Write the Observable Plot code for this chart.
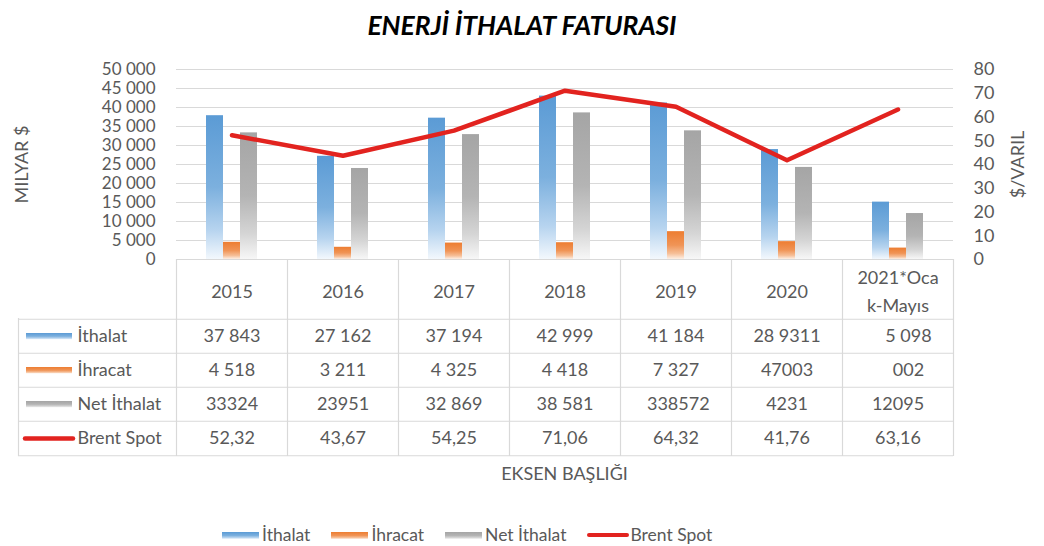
<!DOCTYPE html>
<html><head><meta charset="utf-8">
<script src="https://cdn.jsdelivr.net/npm/d3@7"></script>
<script src="https://cdn.jsdelivr.net/npm/@observablehq/plot@0.6"></script>
<style>
html,body{margin:0;padding:0;background:#fff;}
#root{position:relative;width:1044px;height:546px;overflow:hidden;font-family:Lato,sans-serif;color:#595959;}
#root svg{position:absolute;left:0;}
.title{position:absolute;left:0;width:1044px;top:8px;text-align:center;font-size:26.5px;font-weight:bold;font-style:italic;color:#000;line-height:34px;}
.xtitle{position:absolute;left:176px;width:777px;top:461px;text-align:center;font-size:18px;line-height:24px;}
.legend{position:absolute;left:222px;top:523px;display:flex;align-items:center;font-size:17.5px;line-height:24px;}
.legend .item{display:flex;align-items:center;margin-right:21px;}
.legend .sw{width:37px;height:7px;margin-right:3px;}
.legend .ln{width:42px;height:4px;border-radius:2px;margin-right:1px;}
</style></head><body><div id="root"></div>
<script>
// ---- data ----
const categories = ["2015","2016","2017","2018","2019","2020","2021"];
const headerLabels = ["2015","2016","2017","2018","2019","2020","2021*Oca\nk-Mayıs"];
const seriesNames = ["İthalat","İhracat","Net İthalat","Brent Spot"];
const ithalat    = [37843, 27162, 37194, 42999, 41184, 28931, 15098];
const ihracat    = [4518, 3211, 4325, 4418, 7327, 4700, 3002];
const netIthalat = [33324, 23951, 32869, 38581, 33857, 24231, 12095];
const brent      = [52.32, 43.67, 54.25, 71.06, 64.32, 41.76, 63.16];
const ithalatLabels = ["37 843","27 162","37 194","42 999","41 184","28 9311","\u2007\u20075 098"];
const ihracatLabels = ["4 518","3 211","4 325","4 418","7 327","47003","\u2007\u2007002"];
const netLabels     = ["33324","23951","32 869","38 581","\u00a0338572","4231","12095"];
const brentLabels   = ["52,32","43,67","54,25","71,06","64,32","41,76","63,16"];
const leftTicks  = d3.range(0, 50001, 5000);
const rightTicks = d3.range(0, 81, 10);

// ---- styles ----
const colors = {blue:"#5b9bd5", orange:"#ed7d31", gray:"#a5a5a5", red:"#e2231f", grid:"#d9d9d9", text:"#595959"};
const grads = {
  gBlue:   [["0","#5b9bd5"],["0.5","#7cb0de"],["0.8","#b7d4ef"],["1","#f3f8fd"]],
  gOrange: [["0","#ed7d31"],["0.5","#f09456"],["0.8","#f6bf98"],["1","#fdf0e6"]],
  gGray:   [["0","#a5a5a5"],["0.5","#b4b4b4"],["0.8","#d5d5d5"],["1","#f7f7f7"]]
};
const root = document.getElementById("root");
// gradient defs
const NS = "http://www.w3.org/2000/svg";
const defsSvg = document.createElementNS(NS, "svg");
defsSvg.setAttribute("width", 0); defsSvg.setAttribute("height", 0);
defsSvg.style.position = "absolute";
const defs = document.createElementNS(NS, "defs");
for (const [id, stops] of Object.entries(grads)) {
  const g = document.createElementNS(NS, "linearGradient");
  g.setAttribute("id", id); g.setAttribute("x1", 0); g.setAttribute("y1", 0); g.setAttribute("x2", 0); g.setAttribute("y2", 1);
  for (const [o, c] of stops) { const s = document.createElementNS(NS, "stop"); s.setAttribute("offset", o); s.setAttribute("stop-color", c); g.appendChild(s); }
  defs.appendChild(g);
}
defsSvg.appendChild(defs); root.appendChild(defsSvg);

// title
const t = document.createElement("div"); t.className = "title"; t.textContent = "ENERJİ İTHALAT FATURASI"; root.appendChild(t);

// ---- chart ----
const factor = 50000 / 80;
const chartData = categories.map((c, i) => ({cat: c, ith: ithalat[i], ihr: ihracat[i], net: netIthalat[i], brent: brent[i] * factor, header: headerLabels[i]}));
const W = 1044, ML = 176, MR = 91;
const band = (W - ML - MR) / categories.length;
const barW = 17;
const inset = (band - barW) / 2;
const fmt = d => d3.format(",")(d).replace(/,/g, " ");

const chart = Plot.plot({
  width: W, height: 268,
  marginTop: 19, marginBottom: 59, marginLeft: ML, marginRight: MR,
  style: {fontFamily: "Lato", fontSize: "18px", color: colors.text, background: "transparent", overflow: "visible"},
  x: {type: "band", domain: categories, padding: 0, axis: null},
  y: {domain: [0, 50000], axis: null},
  marks: [
    Plot.ruleY(leftTicks, {stroke: colors.grid, strokeWidth: 1.2}),
    Plot.axisY(leftTicks, {anchor: "left", tickSize: 0, tickPadding: 21, tickFormat: fmt, label: null, fontSize: 17}),
    Plot.axisY(rightTicks.map(d => d * factor), {anchor: "right", tickSize: 0, tickPadding: 20, tickFormat: d => String(Math.round(d / factor)), label: null}),
    Plot.barY(chartData, {x: "cat", y: "ith", fill: "url(#gBlue)", insetLeft: inset, insetRight: inset, dx: -barW}),
    Plot.barY(chartData, {x: "cat", y: "ihr", fill: "url(#gOrange)", insetLeft: inset, insetRight: inset}),
    Plot.barY(chartData, {x: "cat", y: "net", fill: "url(#gGray)", insetLeft: inset, insetRight: inset, dx: barW}),
    Plot.line(chartData, {x: "cat", y: "brent", stroke: colors.red, strokeWidth: 4.5, strokeLinecap: "round", strokeLinejoin: "round"}),
    // header row of the data table
    Plot.ruleX(categories, {x: d => d, dx: -band / 2, insetTop: 190, insetBottom: -59, stroke: colors.grid, strokeWidth: 1.2}),
    Plot.ruleX(categories.slice(-1), {x: d => d, dx: band / 2, insetTop: 190, insetBottom: -59, stroke: colors.grid, strokeWidth: 1.2}),
    Plot.text(chartData, {x: "cat", text: "header", frameAnchor: "bottom", lineAnchor: "middle", dy: 30, lineHeight: 1.55}),
    Plot.text(["MILYAR $"], {text: d => d, frameAnchor: "left", textAnchor: "middle", lineAnchor: "middle", dx: -154, rotate: -90, fontSize: 18}),
    Plot.text(["$/VARIL"], {text: d => d, frameAnchor: "right", textAnchor: "middle", lineAnchor: "middle", dx: 65, rotate: -90, fontSize: 18})
  ]
});
chart.style.top = "50px";
root.appendChild(chart);

// ---- data table body ----
const rowLabels = [ithalatLabels, ihracatLabels, netLabels, brentLabels];
const tableData = seriesNames.flatMap((s, r) => categories.map((c, i) => ({series: s, cat: c, label: rowLabels[r][i]})));
const rowH = 138 / seriesNames.length;
const table = Plot.plot({
  width: W, height: 140,
  marginTop: 1, marginBottom: 1, marginLeft: ML, marginRight: MR,
  style: {fontFamily: "Lato", fontSize: "18px", color: colors.text, background: "transparent", overflow: "visible"},
  x: {type: "band", domain: categories, padding: 0, axis: null},
  y: {type: "band", domain: seriesNames, padding: 0, axis: null},
  marks: [
    Plot.ruleY(seriesNames, {y: d => d, dy: -rowH / 2, insetLeft: -158, stroke: colors.grid, strokeWidth: 1.2}),
    Plot.ruleY(seriesNames.slice(-1), {y: d => d, dy: rowH / 2, insetLeft: -158, stroke: colors.grid, strokeWidth: 1.2}),
    Plot.ruleX(categories, {x: d => d, dx: -band / 2, stroke: colors.grid, strokeWidth: 1.2}),
    Plot.ruleX(categories.slice(-1), {x: d => d, dx: band / 2, stroke: colors.grid, strokeWidth: 1.2}),
    Plot.ruleX(categories.slice(0, 1), {x: d => d, dx: -band / 2 - 158, stroke: colors.grid, strokeWidth: 1.2}),
    Plot.cell([seriesNames[0]], {y: d => d, fill: "url(#gBlue)", insetLeft: -150, insetRight: W - ML - MR + 104, insetTop: 14, insetBottom: 13.5}),
    Plot.cell([seriesNames[1]], {y: d => d, fill: "url(#gOrange)", insetLeft: -150, insetRight: W - ML - MR + 104, insetTop: 14, insetBottom: 13.5}),
    Plot.cell([seriesNames[2]], {y: d => d, fill: "url(#gGray)", insetLeft: -150, insetRight: W - ML - MR + 104, insetTop: 14, insetBottom: 13.5}),
    Plot.ruleY([seriesNames[3]], {y: d => d, insetLeft: -151, insetRight: W - ML - MR + 103, stroke: colors.red, strokeWidth: 4.5, strokeLinecap: "round"}),
    Plot.text(seriesNames, {y: d => d, text: d => d, frameAnchor: "left", dx: -99, textAnchor: "start"}),
    Plot.text(tableData, {x: "cat", y: "series", text: "label"})
  ]
});
table.style.top = "317px";
root.appendChild(table);

// axis title below
const xt = document.createElement("div"); xt.className = "xtitle"; xt.textContent = "EKSEN BAŞLIĞI"; root.appendChild(xt);

// legend
const legend = document.createElement("div"); legend.className = "legend";
const legendColors = [grads.gBlue, grads.gOrange, grads.gGray];
seriesNames.forEach((s, i) => {
  const item = document.createElement("div"); item.className = "item";
  const sw = document.createElement("div");
  if (i < 3) {
    sw.className = "sw";
    sw.style.background = `linear-gradient(to bottom, ${legendColors[i].map(([o, c]) => `${c} ${o * 100}%`).join(", ")})`;
  } else {
    sw.className = "ln"; sw.style.background = colors.red;
  }
  const tx = document.createElement("span"); tx.textContent = s;
  item.appendChild(sw); item.appendChild(tx); legend.appendChild(item);
});
root.appendChild(legend);
</script></body></html>
